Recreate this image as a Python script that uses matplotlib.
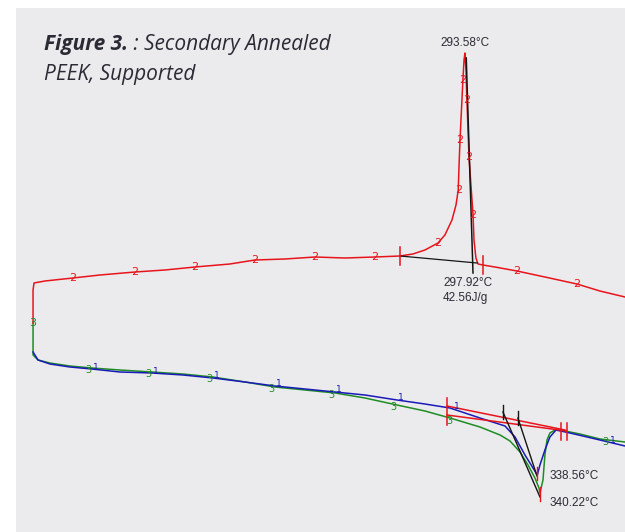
"""DSC thermogram: secondary annealed PEEK, supported (Figure 3)."""

import numpy as np
import matplotlib
matplotlib.use("Agg")
import matplotlib.pyplot as plt

# ---- cycle 2 (cooling, red): temperature (degC) and heat flow (W/g) ----
cool_T = [400.0, 393.1, 377.5, 363.2, 343.3, 325.9, 312.2, 304.8, 301.7, 300.4,
          299.2, 298.6, 297.3, 296.1, 294.8, 294.2, 293.58, 293.0, 292.3, 291.1,
          290.5, 289.8, 289.4, 288.0, 285.5, 281.1, 276.8, 268.7, 261.2, 253.2,
          237.6, 219.0, 200.3, 181.6, 163.0, 147.4, 125.7, 107.0, 88.4, 66.6,
          49.8, 32.4, 25.6, 25.0, 25.0]
cool_hf = [-0.01, 0.03, 0.09, 0.16, 0.23, 0.29, 0.33, 0.35, 0.36, 0.42,
           0.60, 0.85, 1.15, 1.43, 2.00, 2.30, 2.47, 2.40, 2.20, 1.80,
           1.60, 1.30, 1.10, 0.95, 0.80, 0.65, 0.57, 0.50, 0.46, 0.44,
           0.43, 0.42, 0.43, 0.41, 0.40, 0.36, 0.33, 0.30, 0.28, 0.25,
           0.22, 0.19, 0.17, 0.10, -0.23]

# ---- cycle 3 (second heating, green) ----
heat3_T = [25.0, 25.0, 28.1, 35.5, 47.9, 61.6, 79.0, 98.9, 118.2, 136.9,
           156.8, 175.4, 194.1, 212.8, 231.4, 251.3, 268.7, 284.3, 302.9, 315.4,
           321.6, 327.8, 332.8, 337.1, 339.6, 340.22, 342.1, 343.3, 344.6, 346.4,
           349.6, 355.8, 365.1, 377.5, 393.1, 400.0]
heat3_hf = [-0.23, -0.55, -0.60, -0.63, -0.66, -0.68, -0.70, -0.72, -0.74, -0.77,
            -0.82, -0.87, -0.90, -0.93, -0.98, -1.05, -1.11, -1.18, -1.27, -1.35,
            -1.41, -1.52, -1.65, -1.78, -1.88, -1.93, -1.80, -1.55, -1.40, -1.33,
            -1.30, -1.31, -1.34, -1.39, -1.42, -1.44]

# ---- cycle 1 (first heating, blue) ----
heat1_T = [25.0, 28.1, 35.5, 47.9, 61.6, 79.0, 98.9, 118.2, 136.9, 156.8,
           175.4, 194.1, 212.8, 231.4, 251.3, 268.7, 284.3, 302.9, 318.5, 324.7,
           330.9, 335.9, 338.56, 340.2, 343.3, 346.4, 350.2, 358.9, 377.5, 393.1,
           400.0]
heat1_hf = [-0.52, -0.60, -0.64, -0.67, -0.69, -0.72, -0.73, -0.75, -0.78, -0.82,
            -0.86, -0.89, -0.92, -0.95, -1.00, -1.04, -1.08, -1.18, -1.26, -1.37,
            -1.55, -1.68, -1.75, -1.65, -1.50, -1.37, -1.30, -1.33, -1.40, -1.46,
            -1.48]

# analysis results written on the thermogram
cryst_peak_T, cryst_peak_hf = 293.58, 2.47
cryst_end_T = 297.92
cryst_enthalpy = 42.56
melt1_T, melt1_hf = 338.56, -1.75
melt3_T, melt3_hf = 340.22, -1.93

# integration limits / tangent construction
cryst_limits = [253.2, 304.8]
cryst_base_hf = [0.44, 0.37]
melt_start_T = 282.4
melt_base = [([282.4, 355.8], [-1.06, -1.30]), ([282.4, 357.0], [-1.15, -1.31])]
melt_end_T = [353.3, 357.0]
tangent_T = [317.2, 326.5]
tangent_hf = [-1.12, -1.18]

# where the curve-number digits sit
cool_marks = [49.8, 88.4, 125.7, 163.0, 200.3, 237.6, 276.8, 289.4, 290.5, 292.3,
              294.8, 296.1, 298.6, 325.9, 363.2]
heat_marks = [61.6, 98.9, 136.9, 175.4, 212.8, 251.3, 286.0, 383.0]

RED, BLUE, GREEN, BLACK = "#e8141c", "#1a1ab8", "#1e8c24", "#151515"
TXT = "#2b2b36"

fig = plt.figure(figsize=(6.25, 5.32), dpi=100, facecolor="white")
ax = fig.add_axes([16 / 625, 0, 609 / 625, 524 / 532], facecolor="#ebebed")
ax.set_xlim(14.4, 393.1)
ax.set_ylim(-2.32, 2.92)
for s in ax.spines.values():
    s.set_visible(False)
ax.set_xticks([])
ax.set_yticks([])

lw = 1.1
ax.plot(heat3_T, heat3_hf, color=GREEN, lw=lw, zorder=3)
ax.plot(heat1_T, heat1_hf, color=BLUE, lw=lw, zorder=3)
ax.plot(cool_T, cool_hf, color=RED, lw=lw, zorder=3)

# crystallisation peak construction
ax.plot([cryst_limits[0], cryst_limits[1] - 3.7], cryst_base_hf, color=BLACK, lw=0.9, zorder=4)
ax.plot([cryst_peak_T + 0.8, cryst_peak_T + 5.0], [cryst_peak_hf - 0.05, 0.27],
        color=BLACK, lw=1.1, zorder=4)
for t, h in zip(cryst_limits, [0.44, 0.35]):
    ax.plot([t, t], [h - 0.09, h + 0.09], color=RED, lw=1.1, zorder=5)

# melting construction
for t, h in melt_base:
    ax.plot(t, h, color=RED, lw=1.1, zorder=4)
ax.plot([melt_start_T, melt_start_T], [-0.98, -1.25], color=RED, lw=1.1, zorder=5)
for t in melt_end_T:
    ax.plot([t, t], [-1.23, -1.40], color=RED, lw=1.1, zorder=5)
for t0, h0, (t1, h1) in zip(tangent_T, tangent_hf,
                            [(melt3_T, melt3_hf - 0.04), (melt1_T - 0.2, melt1_hf - 0.01)]):
    ax.plot([t0, t1], [h0, h1], color=BLACK, lw=1.0, zorder=4)
    ax.plot([t0, t0], [h0 + 0.07, h0 - 0.07], color=BLACK, lw=1.0, zorder=4)
ax.plot([melt1_T, melt1_T], [melt1_hf + 0.08, melt1_hf - 0.05], color=RED, lw=1.0, zorder=5)
ax.plot([melt3_T, melt3_T], [melt3_hf + 0.06, melt3_hf - 0.08], color=RED, lw=1.0, zorder=5)

# curve-number digits
ct, ch = np.array(cool_T[::-1]), np.array(cool_hf[::-1])
for t in cool_marks:
    ax.text(t, np.interp(t, ct[1:], ch[1:]), "2", color=RED, fontsize=8,
            ha="center", va="center", zorder=6)
ax.text(25.0, -0.23, "3", color=GREEN, fontsize=8, ha="center", va="center", zorder=6)
for t in heat_marks:
    ax.text(t + 2.4, np.interp(t, heat1_T, heat1_hf) + 0.02, "1", color=BLUE,
            fontsize=6.5, ha="center", va="center", zorder=6)
    ax.text(t - 2.0, np.interp(t, heat3_T[1:], heat3_hf[1:]) - 0.02, "3", color=GREEN,
            fontsize=7, ha="center", va="center", zorder=6)

# value labels
lab = dict(color=TXT, fontsize=8.5, family="Liberation Sans", zorder=7)
ax.text(cryst_peak_T, 2.57, "%.2f°C" % cryst_peak_T, ha="center", va="center", **lab)
ax.text(279.9, 0.17, "%.2f°C" % cryst_end_T, ha="left", va="center", **lab)
ax.text(279.9, 0.02, "%.2fJ/g" % cryst_enthalpy, ha="left", va="center", **lab)
ax.text(346.4, -1.76, "%.2f°C" % melt1_T, ha="left", va="center", **lab)
ax.text(346.4, -2.03, "%.2f°C" % melt3_T, ha="left", va="center", **lab)

# title
title_kw = dict(fontsize=15, style="italic", family="Open Sans", color=TXT)
t1 = fig.text(44 / 625, 1 - 50 / 532, "Figure 3.", weight="bold", va="baseline", **title_kw)
ax.annotate(" : Secondary Annealed", xy=(1, 0), xycoords=t1, va="bottom", **title_kw)
fig.text(44 / 625, 1 - 80 / 532, "PEEK, Supported", va="baseline", **title_kw)

fig.savefig("out.png", dpi=100, facecolor="white")
